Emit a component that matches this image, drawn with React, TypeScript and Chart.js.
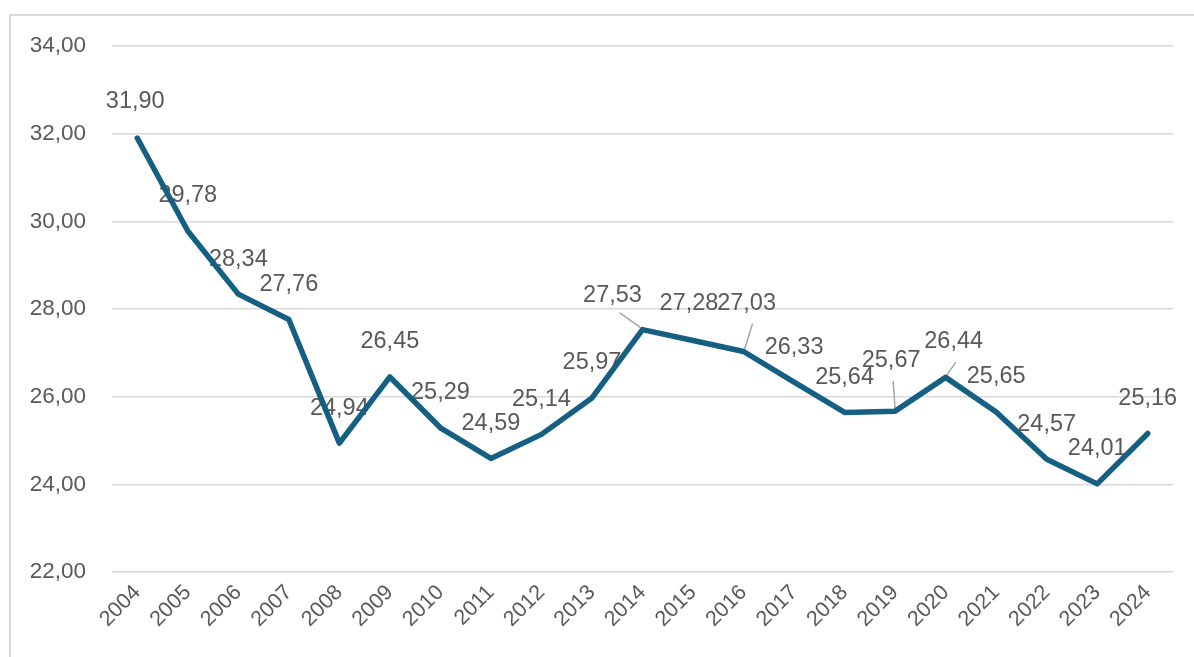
import React, { useEffect, useRef } from "react";
import { Chart, registerables } from "chart.js";

Chart.register(...registerables);

const years: string[] = [
  "2004", "2005", "2006", "2007", "2008", "2009", "2010", "2011", "2012", "2013", "2014",
  "2015", "2016", "2017", "2018", "2019", "2020", "2021", "2022", "2023", "2024",
];
const values: number[] = [
  31.9, 29.78, 28.34, 27.76, 24.94, 26.45, 25.29, 24.59, 25.14, 25.97, 27.53,
  27.28, 27.03, 26.33, 25.64, 25.67, 26.44, 25.65, 24.57, 24.01, 25.16,
];
const yMin = 22;
const yMax = 34;
const yStep = 2;

const LINE_COLOR = "#156082";
const TEXT_COLOR = "#595959";
const GRID_COLOR = "#d9d9d9";
const FONT = "'Liberation Sans', Arial, sans-serif";

const fmt = (v: number) => v.toFixed(2).replace(".", ",");

// label placement style (relative to each point), like Excel's manual label moves
const DEFAULT_SHIFT: [number, number] = [0, -35];
const labelShift: Record<number, [number, number]> = {
  0: [-2, -37],
  10: [-30, -34],
  11: [-4, -37],
  12: [3, -48],
  15: [-4, -51],
  16: [8, -36],
};
const leaderStart: Record<number, [number, number]> = {
  10: [-23, -17],
  12: [9, -28],
  15: [-2, -30],
  16: [10, -15],
};

const labelPlugin = {
  id: "valueLabels",
  beforeDatasetsDraw(chart: any) {
    const ctx = chart.ctx as CanvasRenderingContext2D;
    const meta = chart.getDatasetMeta(0);
    const data = chart.data.datasets[0].data as number[];
    ctx.save();
    ctx.strokeStyle = "#a6a6a6";
    ctx.lineWidth = 1.5;
    Object.keys(leaderStart).forEach((k) => {
      const i = Number(k);
      const el = meta.data[i];
      if (!el) return;
      const [sx, sy] = leaderStart[i];
      ctx.beginPath();
      ctx.moveTo(el.x + sx, el.y + sy);
      ctx.lineTo(el.x + (sx > 0 ? 1 : sx < -5 ? -2 : 0), el.y - 2);
      ctx.stroke();
    });
    ctx.fillStyle = TEXT_COLOR;
    ctx.font = `23.5px ${FONT}`;
    ctx.textAlign = "center";
    ctx.textBaseline = "middle";
    meta.data.forEach((el: any, i: number) => {
      const [dx, dy] = labelShift[i] || DEFAULT_SHIFT;
      ctx.fillText(fmt(data[i]), el.x + dx, el.y + dy);
    });
    ctx.restore();
  },
};

export default function App() {
  const ref = useRef<HTMLCanvasElement | null>(null);

  useEffect(() => {
    if (!ref.current) return;
    const chart = new Chart(ref.current, {
      type: "line",
      data: {
        labels: years,
        datasets: [
          {
            data: values,
            borderColor: LINE_COLOR,
            borderWidth: 5.5,
            pointRadius: 0,
            tension: 0,
            borderJoinStyle: "round",
            borderCapStyle: "round",
            fill: false,
          },
        ],
      },
      options: {
        animation: false,
        responsive: false,
        layout: { padding: { left: 0, right: 21, top: 46, bottom: 0 } },
        plugins: {
          legend: { display: false },
          tooltip: { enabled: false },
        },
        scales: {
          x: {
            type: "category",
            offset: true,
            grid: { display: false, drawTicks: false },
            border: { display: false },
            ticks: {
              color: TEXT_COLOR,
              font: { family: FONT, size: 21.5 },
              minRotation: 45,
              maxRotation: 45,
              padding: 8,
              autoSkip: false,
            },
            afterFit: (s: any) => {
              s.height = 85;
            },
          },
          y: {
            min: yMin,
            max: yMax,
            grid: { color: GRID_COLOR, lineWidth: 1.5, drawTicks: false },
            border: { display: false },
            ticks: {
              stepSize: yStep,
              color: TEXT_COLOR,
              font: { family: FONT, size: 22.5 },
              padding: 26,
              callback: (v: any) => fmt(Number(v)),
            },
            afterFit: (s: any) => {
              s.width = 112;
            },
          },
        },
      },
      plugins: [labelPlugin],
    });
    return () => chart.destroy();
  }, []);

  return (
    <div>
      <div
        style={{
          position: "fixed",
          left: 9,
          top: 14,
          width: 1400,
          height: 900,
          borderLeft: `2px solid ${GRID_COLOR}`,
          borderTop: `2px solid ${GRID_COLOR}`,
          boxSizing: "border-box",
        }}
      />
      <canvas
        ref={ref}
        width={1194}
        height={657}
        style={{ position: "fixed", left: 0, top: 0, width: 1194, height: 657 }}
      />
    </div>
  );
}
